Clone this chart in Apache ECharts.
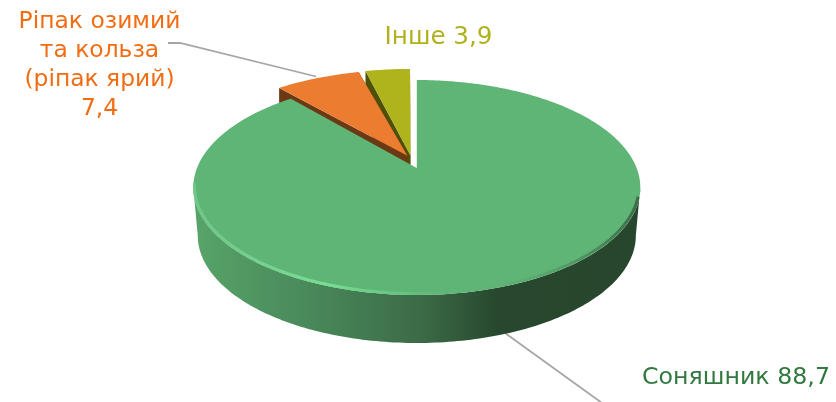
<!DOCTYPE html>
<html>
<head>
<meta charset="utf-8">
<style>html,body{margin:0;padding:0;background:#fff}#c{width:836px;height:402px}</style>
<script src="https://cdn.jsdelivr.net/npm/echarts@6/dist/echarts.min.js"></script>
</head>
<body>
<div id="c"></div>
<script>
const categories = ['Соняшник', 'Ріпак озимий та кольза (ріпак ярий)', 'Інше'];
const values = [88.7, 7.4, 3.9];
const labelLines = [
  ['Соняшник 88,7'],
  ['Ріпак озимий', 'та кольза', '(ріпак ярий)', '7,4'],
  ['Інше 3,9']
];

// Layout and style
const apex = [416.8, 168], A = 219.8, B = 103.96, K = 0.1814;
const depthFront = 48, depthScale = 0.98;
const explode = [0, 0.125, 0.125];
const nudge = [[0, 0], [-3, -2], [-4, -2]];
const apexNudge = [[0, 0], [6, 1], [1, 2]];
const topColors = ['#5fb576', '#ec7c30', '#b0b41c'];
const wallColors = ['#3c6b47', '#6b3a14', '#4f5008'];
const textColors = ['#31793f', '#f26c12', '#afb21c'];
const fontSizes = [23.7, 23.4, 24.6];
const labelPos = [[736, 378], [99.5, 0], [438.5, 38]];
const lineH = 28.9, firstLineY = 22;
const leaders = [
  [[505, 333], [602, 403]],
  [[168, 43], [180, 43], [316, 76.5]],
  []
];

const total = values.reduce((a, b) => a + b, 0);
const rad = d => d * Math.PI / 180;
const tangentTheta = Math.acos(-K) * 180 / Math.PI;

function project(X, Y) {
  const w = 1 - K * Y;
  return [apex[0] + A * X / w, apex[1] + B * Y / w];
}
function sliceStart(i) {
  let s = 0;
  for (let j = 0; j < i; j++) s += values[j];
  return s / total * 360;
}
function sliceEnd(i) { return sliceStart(i) + values[i] / total * 360; }
function sliceMid(i) { return (sliceStart(i) + sliceEnd(i)) / 2; }
function rimPoint(theta, i) {
  const mid = sliceMid(i);
  const ex = explode[i];
  const X = Math.sin(rad(theta)) + ex * Math.sin(rad(mid));
  const Y = -Math.cos(rad(theta)) - ex * Math.cos(rad(mid));
  const p = project(X, Y);
  return [p[0] + nudge[i][0], p[1] + nudge[i][1]];
}
function sliceApex(i) {
  const ex = explode[i], m = sliceMid(i);
  const p = project(ex * Math.sin(rad(m)), -ex * Math.cos(rad(m)));
  return [p[0] + nudge[i][0] + apexNudge[i][0], p[1] + nudge[i][1] + apexNudge[i][1]];
}
function arcPts(i, from, to) {
  const pts = [];
  const n = Math.max(2, Math.ceil(Math.abs(to - from)));
  for (let k = 0; k <= n; k++) pts.push(rimPoint(from + (to - from) * k / n, i));
  return pts;
}
function down(p, d) {
  return [apex[0] + (p[0] - apex[0]) * depthScale, p[1] + d];
}

function renderItem(params, api) {
  const i = params.dataIndex;
  const val = api.value(0);
  const a0 = sliceStart(i), a1 = a0 + val / total * 360;
  const base = (categories.length - i) * 4;
  const children = [];
  const topPts = [sliceApex(i)].concat(arcPts(i, a0, a1));

  if (i === 0) {
    const front = arcPts(0, tangentTheta, 360 - tangentTheta);
    const wall = front.concat(front.slice().reverse().map(p => down(p, depthFront)));
    children.push({
      type: 'polygon', z2: base,
      shape: { points: wall },
      style: {
        fill: new echarts.graphic.LinearGradient(0, 0, 1, 0, [
          { offset: 0, color: '#57a469' },
          { offset: 0.24, color: '#4a8b5b' },
          { offset: 0.507, color: '#3c6b47' },
          { offset: 0.68, color: '#27482e' },
          { offset: 1, color: '#27462d' }
        ])
      }
    });
  } else {
    const ap = sliceApex(i);
    const [p0, p1] = [rimPoint(a0, i), rimPoint(a1, i)];
    const d = depthFront - 6;
    children.push({
      type: 'polygon', z2: base,
      shape: { points: [ap, p0, [p0[0], p0[1] + d], [ap[0], ap[1] + d]] },
      style: { fill: wallColors[i] }
    });
    children.push({
      type: 'polygon', z2: base,
      shape: { points: [ap, p1, [p1[0], p1[1] + d], [ap[0], ap[1] + d]] },
      style: { fill: wallColors[i] }
    });
  }

  children.push({
    type: 'polygon', z2: base + 1,
    shape: { points: topPts },
    style: { fill: topColors[i] }
  });

  if (i === 0) {
    const rim = arcPts(0, 106, 261);
    const grad = new echarts.graphic.LinearGradient(0, 0, 1, 0, [
      { offset: 0, color: 'rgba(115,200,140,0.9)' },
      { offset: 0.3, color: 'rgba(120,222,148,1)' },
      { offset: 0.48, color: 'rgba(105,200,132,0.7)' },
      { offset: 0.6, color: 'rgba(95,181,118,0)' },
      { offset: 0.8, color: 'rgba(60,110,75,0.25)' },
      { offset: 1, color: 'rgba(40,75,50,0.7)' }
    ]);
    children.push({
      type: 'polyline', z2: base + 2,
      shape: { points: rim.map(p => [apex[0] + (p[0] - apex[0]) * 0.995, p[1] - 1.5]) },
      style: { fill: 'none', stroke: grad, lineWidth: 3 }
    });
  }

  if (leaders[i].length) {
    children.push({
      type: 'polyline', z2: 0,
      shape: { points: leaders[i] },
      style: { fill: 'none', stroke: '#a6a6a6', lineWidth: 1.8 }
    });
  }

  labelLines[i].forEach((t, k) => {
    const y = i === 1 ? firstLineY + k * lineH : labelPos[i][1];
    children.push({
      type: 'text', z2: 40,
      style: {
        x: labelPos[i][0], y: y, text: t,
        fill: textColors[i],
        font: fontSizes[i] + 'px "DejaVu Sans", Verdana, sans-serif',
        align: 'center', verticalAlign: 'middle'
      }
    });
  });

  return { type: 'group', children };
}

const chart = echarts.init(document.getElementById('c'), null, { renderer: 'canvas' });
chart.setOption({
  animation: false,
  backgroundColor: '#ffffff',
  series: [{
    type: 'custom',
    coordinateSystem: 'none',
    renderItem,
    data: values.map((v, i) => ({ name: categories[i], value: [v] })),
    silent: true,
    clip: false
  }]
});
</script>
</body>
</html>
